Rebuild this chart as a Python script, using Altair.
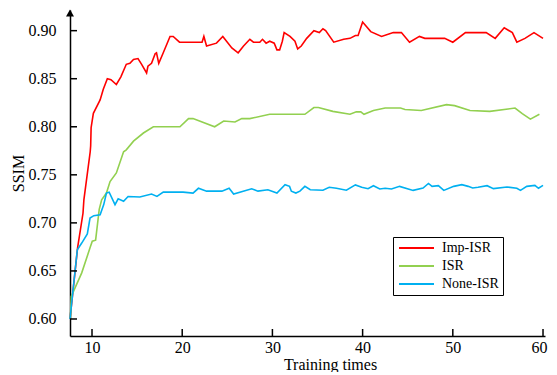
import altair as alt
import pandas as pd

# (training time, SSIM)
imp_isr = [(7.56, 0.600), (8.4, 0.674), (9.0, 0.710), (9.1, 0.724), (9.8, 0.774), (9.85, 0.780),
           (9.9, 0.799), (10.15, 0.814), (10.9, 0.828), (11.25, 0.839), (11.7, 0.850), (12.1, 0.849),
           (12.7, 0.844), (13.2, 0.852), (13.8, 0.865), (14.2, 0.866), (14.6, 0.870), (15.1, 0.871),
           (15.5, 0.865), (16.05, 0.856), (16.2, 0.863), (16.6, 0.866), (17.0, 0.876), (17.15, 0.877),
           (17.4, 0.866), (17.9, 0.877), (18.65, 0.894), (19.0, 0.894), (19.7, 0.888), (22.2, 0.888),
           (22.4, 0.894), (22.7, 0.884), (23.8, 0.887), (24.5, 0.894), (25.5, 0.882), (26.2, 0.877),
           (26.8, 0.884), (27.5, 0.891), (27.9, 0.888), (28.6, 0.888), (28.9, 0.891), (29.3, 0.887),
           (29.7, 0.889), (30.2, 0.887), (30.5, 0.880), (30.8, 0.880), (31.1, 0.889), (31.3, 0.898),
           (31.95, 0.894), (32.5, 0.889), (32.8, 0.881), (33.2, 0.884), (33.8, 0.892), (34.6, 0.900),
           (35.2, 0.898), (35.6, 0.902), (35.9, 0.900), (36.8, 0.888), (37.9, 0.891), (38.6, 0.892),
           (39.2, 0.895), (39.5, 0.895), (40.0, 0.909), (40.9, 0.899), (42.1, 0.894), (43.4, 0.898),
           (44.3, 0.898), (45.2, 0.888), (46.3, 0.894), (46.9, 0.892), (49.1, 0.892), (50.0, 0.888),
           (51.4, 0.898), (53.7, 0.898), (54.7, 0.892), (55.7, 0.903), (56.6, 0.898), (57.1, 0.888),
           (58.0, 0.892), (59.0, 0.898), (60.0, 0.892)]

isr = [(7.6, 0.600), (7.7, 0.6235), (8.86, 0.648), (9.78, 0.674), (10.03, 0.681), (10.4, 0.682),
       (10.8, 0.714), (11.07, 0.724), (11.6, 0.731), (12.0, 0.743), (12.7, 0.752), (13.5, 0.774),
       (13.8, 0.776), (14.6, 0.785), (15.7, 0.7935), (16.8, 0.800), (19.75, 0.800), (20.7, 0.8085),
       (21.2, 0.8085), (23.6, 0.800), (24.6, 0.806), (25.85, 0.805), (26.6, 0.8085), (27.5, 0.8085),
       (29.7, 0.813), (33.6, 0.813), (34.6, 0.820), (35.1, 0.820), (36.7, 0.816), (38.6, 0.813),
       (39.3, 0.8155), (39.8, 0.8155), (40.15, 0.813), (41.2, 0.817), (42.5, 0.8195), (44.2, 0.8195),
       (44.7, 0.818), (46.5, 0.817), (49.3, 0.823), (50.2, 0.822), (51.9, 0.817), (54.1, 0.816),
       (56.9, 0.8195), (57.7, 0.8136), (58.6, 0.808), (59.6, 0.813)]

none_isr = [(7.56, 0.600), (8.37, 0.672), (8.86, 0.679), (9.48, 0.6885), (9.78, 0.705), (10.2, 0.7075),
            (10.9, 0.7085), (11.3, 0.719), (11.6, 0.731), (11.9, 0.732), (12.55, 0.719), (12.9, 0.725),
            (13.5, 0.7225), (14.0, 0.7275), (15.3, 0.727), (16.6, 0.730), (17.2, 0.7275), (17.9, 0.732),
            (20.1, 0.732), (21.2, 0.731), (21.8, 0.736), (22.7, 0.733), (24.4, 0.733), (25.2, 0.736),
            (25.7, 0.730), (27.7, 0.7355), (28.4, 0.733), (29.5, 0.7345), (30.5, 0.731), (31.4, 0.7398),
            (31.9, 0.738), (32.1, 0.733), (32.6, 0.731), (33.05, 0.733), (33.6, 0.738), (34.2, 0.7345),
            (35.6, 0.734), (36.3, 0.737), (37.1, 0.736), (38.2, 0.734), (39.2, 0.7395), (39.9, 0.737),
            (40.6, 0.7356), (41.2, 0.7387), (41.9, 0.7353), (42.5, 0.736), (43.2, 0.7353), (44.1, 0.738),
            (45.6, 0.7338), (46.7, 0.7363), (47.3, 0.741), (47.7, 0.738), (48.4, 0.7387), (49.0, 0.7338),
            (50.1, 0.738), (51.0, 0.7398), (51.7, 0.738), (52.2, 0.7363), (52.8, 0.737), (53.8, 0.7387),
            (54.5, 0.7356), (56.0, 0.7373), (57.1, 0.736), (57.5, 0.7338), (58.2, 0.738), (59.1, 0.739),
            (59.5, 0.736), (60.0, 0.739)]

series_names = ["Imp-ISR", "ISR", "None-ISR"]
series_colors = ["#ff0000", "#92d050", "#00b0f0"]
x_ticks = [10, 20, 30, 40, 50, 60]
y_ticks = [0.60, 0.65, 0.70, 0.75, 0.80, 0.85, 0.90]

rows = []
for name, pts in zip(series_names, [imp_isr, isr, none_isr]):
    for i, (t, v) in enumerate(pts):
        rows.append({"series": name, "t": t, "v": v, "i": i})
df = pd.DataFrame(rows)

FONT = "Liberation Serif"
W, H = 475, 326

xscale = alt.Scale(domain=[7.56, 60.22], nice=False, zero=False)
yscale = alt.Scale(domain=[0.5823, 0.9215], nice=False, zero=False)

xaxis = alt.Axis(values=x_ticks, format="d", labelPadding=3, labelFlush=5, labelFlushOffset=4,
                 title="Training times", titleX=260, titleY=28,
                 titleAlign="center", titleBaseline="middle")
yaxis = alt.Axis(values=y_ticks, format=".2f", labelPadding=14, labelFlush=False,
                 title="SSIM", titleX=-52, titleY=163, titleAngle=270,
                 titleAlign="center", titleBaseline="middle")

X = alt.X("t:Q", scale=xscale, axis=xaxis)
Y = alt.Y("v:Q", scale=yscale, axis=yaxis)

lines = alt.Chart(df).mark_line(strokeWidth=1.6).encode(
    x=X,
    y=Y,
    color=alt.Color("series:N",
                    scale=alt.Scale(domain=series_names, range=series_colors),
                    legend=alt.Legend(orient="none", legendX=323, legendY=227, title=None,
                                      symbolType="M-1,0H6", symbolSize=100, symbolStrokeWidth=2,
                                      labelFont=FONT, labelFontSize=14, labelColor="black",
                                      labelOffset=31, strokeColor="black", fillColor="white",
                                      padding=4, rowPadding=4, cornerRadius=0)),
    order=alt.Order("i:Q"),
)

ytick_rules = alt.Chart(pd.DataFrame({"v": y_ticks})).mark_rule(color="black", strokeWidth=1.5).encode(
    y=Y, x=alt.value(0), x2=alt.value(7),
)
xtick_rules = alt.Chart(pd.DataFrame({"t": x_ticks})).mark_rule(color="black", strokeWidth=1.5).encode(
    x=X, y=alt.value(H), y2=alt.value(H - 7),
)
arrow = alt.Chart(alt.Data(values=[{"a": 1}])).mark_point(
    shape="triangle-up", filled=True, color="black", size=64, opacity=1
).encode(x=alt.value(0), y=alt.value(3))

chart = alt.layer(lines, ytick_rules, xtick_rules, arrow).properties(
    width=W, height=H,
    padding={"left": 62, "top": 2, "right": 4, "bottom": 36},
    autosize=alt.AutoSizeParams(type="none"),
).configure_view(stroke=None).configure_axis(
    grid=False, ticks=False, domainColor="black", domainWidth=1.5,
    labelFont=FONT, labelFontSize=16, labelColor="black",
    titleFont=FONT, titleFontSize=16, titleColor="black", titleFontWeight="normal",
)

chart.save("out.html", embed_options={"renderer": "svg", "actions": False})
